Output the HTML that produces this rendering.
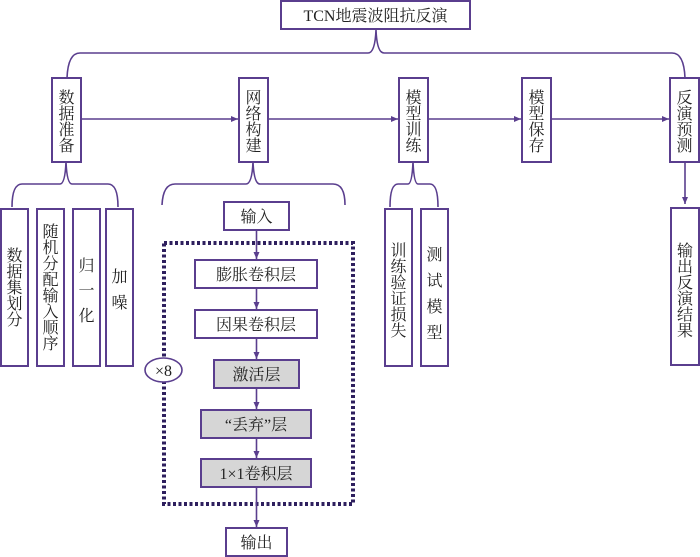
<!DOCTYPE html>
<html><head><meta charset="utf-8"><style>
html,body{margin:0;padding:0;background:#fff;}
svg{display:block;}
text{font-family:"Liberation Serif","Noto Serif CJK SC","Noto Sans CJK SC",serif;fill:#222;font-size:16px;}
.b{fill:#fff;stroke:#5a3e8e;stroke-width:2;}
.g{fill:#d6d6d6;stroke:#5a3e8e;stroke-width:2;}
.l{fill:none;stroke:#5a3e8e;stroke-width:1.6;}
</style></head><body>
<svg width="700" height="557" viewBox="0 0 700 557">
<defs><marker id="a" markerWidth="8" markerHeight="8" refX="7" refY="4" orient="auto" markerUnits="userSpaceOnUse"><path d="M0,1 L7,4 L0,7 z" fill="#5a3e8e"/></marker></defs>
<!-- title -->
<rect class="b" x="281" y="1" width="189" height="28"/>
<text x="375.5" y="21" text-anchor="middle" font-size="17">TCN地震波阻抗反演</text>
<!-- top brace -->
<path class="l" d="M67,78 Q68,53 80,53 L368,53 Q375,53 376,30 Q377,53 384,53 L672,53 Q684,53 685,78"/>
<!-- top boxes -->
<rect class="b" x="52" y="78" width="29" height="84"/>
<text text-anchor="middle"><tspan x="66.5" y="103">数</tspan><tspan x="66.5" y="119">据</tspan><tspan x="66.5" y="135">准</tspan><tspan x="66.5" y="151">备</tspan></text>
<rect class="b" x="239" y="78" width="29" height="84"/>
<text text-anchor="middle"><tspan x="253.5" y="103">网</tspan><tspan x="253.5" y="119">络</tspan><tspan x="253.5" y="135">构</tspan><tspan x="253.5" y="151">建</tspan></text>
<rect class="b" x="399" y="78" width="29" height="84"/>
<text text-anchor="middle"><tspan x="413.5" y="103">模</tspan><tspan x="413.5" y="119">型</tspan><tspan x="413.5" y="135">训</tspan><tspan x="413.5" y="151">练</tspan></text>
<rect class="b" x="522" y="78" width="29" height="84"/>
<text text-anchor="middle"><tspan x="536.5" y="103">模</tspan><tspan x="536.5" y="119">型</tspan><tspan x="536.5" y="135">保</tspan><tspan x="536.5" y="151">存</tspan></text>
<rect class="b" x="670" y="78" width="29" height="84"/>
<text text-anchor="middle"><tspan x="684.5" y="103">反</tspan><tspan x="684.5" y="119">演</tspan><tspan x="684.5" y="135">预</tspan><tspan x="684.5" y="151">测</tspan></text>
<!-- arrows -->
<line class="l" x1="81" y1="119" x2="238" y2="119" marker-end="url(#a)"/>
<line class="l" x1="268" y1="119" x2="398" y2="119" marker-end="url(#a)"/>
<line class="l" x1="428" y1="119" x2="521" y2="119" marker-end="url(#a)"/>
<line class="l" x1="551" y1="119" x2="669" y2="119" marker-end="url(#a)"/>
<line class="l" x1="685" y1="162" x2="685" y2="204" marker-end="url(#a)"/>
<!-- sub braces -->
<path class="l" d="M12,207 Q12,184 22,184 L60,184 Q65,184 66,162 Q67,184 72,184 L108,184 Q118,184 118,207"/>
<path class="l" d="M162,205 Q163,184 175,184 L246,184 Q252,184 253,162 Q254,184 260,184 L333,184 Q345,184 345,205"/>
<path class="l" d="M390,207 Q390,184 398,184 L408,184 Q412,184 413,162 Q414,184 418,184 L430,184 Q438,184 438,207"/>
<!-- data sub boxes -->
<rect class="b" x="1" y="209" width="27" height="157"/>
<text text-anchor="middle"><tspan x="14.5" y="261">数</tspan><tspan x="14.5" y="277">据</tspan><tspan x="14.5" y="293">集</tspan><tspan x="14.5" y="309">划</tspan><tspan x="14.5" y="325">分</tspan></text>
<rect class="b" x="37" y="209" width="27" height="157"/>
<text text-anchor="middle"><tspan x="50.5" y="237">随</tspan><tspan x="50.5" y="253">机</tspan><tspan x="50.5" y="269">分</tspan><tspan x="50.5" y="285">配</tspan><tspan x="50.5" y="301">输</tspan><tspan x="50.5" y="317">入</tspan><tspan x="50.5" y="333">顺</tspan><tspan x="50.5" y="349">序</tspan></text>
<rect class="b" x="73" y="209" width="27" height="157"/>
<text text-anchor="middle"><tspan x="86.5" y="271">归</tspan><tspan x="86.5" y="296">一</tspan><tspan x="86.5" y="321">化</tspan></text>
<rect class="b" x="106" y="209" width="27" height="157"/>
<text text-anchor="middle"><tspan x="119.5" y="282">加</tspan><tspan x="119.5" y="308">噪</tspan></text>
<!-- train sub boxes -->
<rect class="b" x="385" y="209" width="27" height="157"/>
<text text-anchor="middle"><tspan x="398.5" y="256">训</tspan><tspan x="398.5" y="272">练</tspan><tspan x="398.5" y="288">验</tspan><tspan x="398.5" y="304">证</tspan><tspan x="398.5" y="320">损</tspan><tspan x="398.5" y="336">失</tspan></text>
<rect class="b" x="421" y="209" width="27" height="157"/>
<text text-anchor="middle"><tspan x="434.5" y="260">测</tspan><tspan x="434.5" y="286">试</tspan><tspan x="434.5" y="312">模</tspan><tspan x="434.5" y="338">型</tspan></text>
<rect class="b" x="671" y="208" width="28" height="157"/>
<text text-anchor="middle"><tspan x="685" y="256">输</tspan><tspan x="685" y="272">出</tspan><tspan x="685" y="288">反</tspan><tspan x="685" y="304">演</tspan><tspan x="685" y="320">结</tspan><tspan x="685" y="336">果</tspan></text>
<!-- network column -->
<rect x="164" y="243" width="189" height="261" fill="none" stroke="#2e1f5e" stroke-width="4" stroke-dasharray="3,2.5"/>
<rect class="b" x="224" y="202" width="65" height="28"/>
<text x="256.5" y="222" text-anchor="middle">输入</text>
<line class="l" x1="256.5" y1="230" x2="256.5" y2="259" marker-end="url(#a)"/>
<rect class="b" x="195" y="260" width="122" height="28"/>
<text x="256" y="280" text-anchor="middle">膨胀卷积层</text>
<line class="l" x1="256.5" y1="288" x2="256.5" y2="309" marker-end="url(#a)"/>
<rect class="b" x="195" y="310" width="122" height="28"/>
<text x="256" y="330" text-anchor="middle">因果卷积层</text>
<line class="l" x1="256.5" y1="338" x2="256.5" y2="359" marker-end="url(#a)"/>
<rect class="g" x="214" y="360" width="85" height="28"/>
<text x="256.5" y="380" text-anchor="middle">激活层</text>
<line class="l" x1="256.5" y1="388" x2="256.5" y2="409" marker-end="url(#a)"/>
<rect class="g" x="201" y="410" width="110" height="28"/>
<text x="256" y="430" text-anchor="middle">“丢弃”层</text>
<line class="l" x1="256.5" y1="438" x2="256.5" y2="458" marker-end="url(#a)"/>
<rect class="g" x="201" y="459" width="110" height="28"/>
<text x="256" y="479" text-anchor="middle">1×1卷积层</text>
<line class="l" x1="256.5" y1="487" x2="256.5" y2="527" marker-end="url(#a)"/>
<rect class="b" x="226" y="528" width="61" height="28"/>
<text x="256.5" y="548" text-anchor="middle">输出</text>
<ellipse cx="163.5" cy="370" rx="18.5" ry="12" fill="#fff" stroke="#5a3e8e" stroke-width="1.6"/>
<text x="163.5" y="376" text-anchor="middle">×8</text>
</svg>
</body></html>
